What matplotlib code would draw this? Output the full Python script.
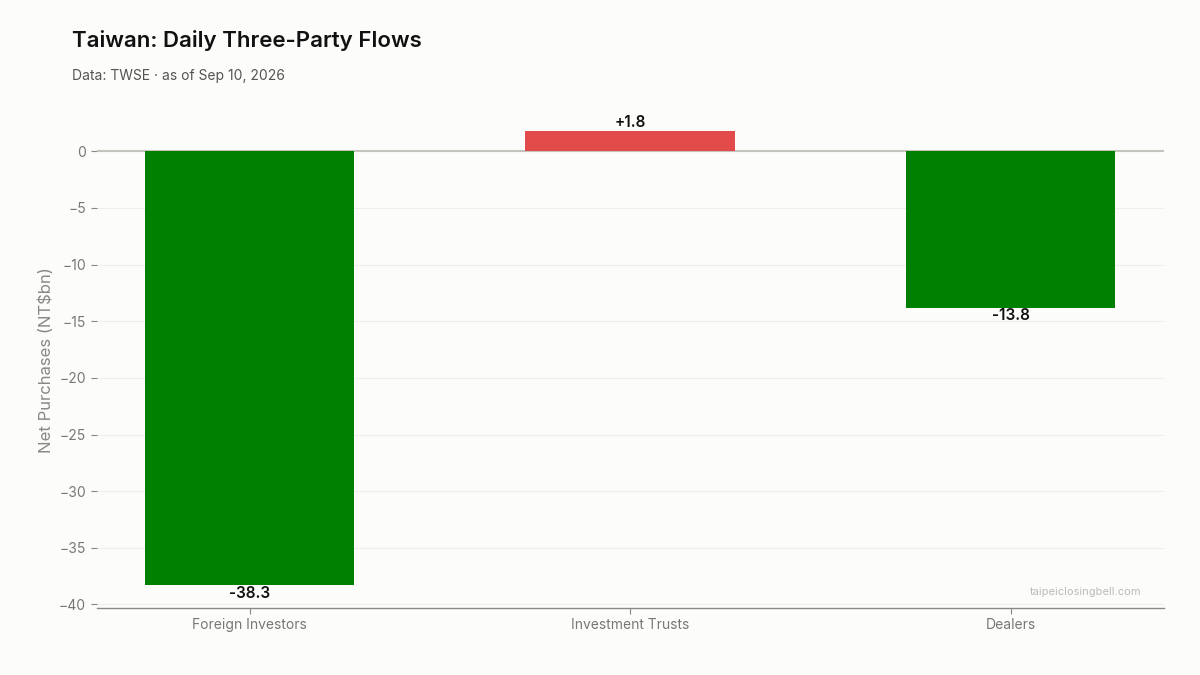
import matplotlib
matplotlib.use("Agg")
import matplotlib.pyplot as plt

plt.rcParams["font.family"] = ["Inter", "DejaVu Sans"]

# chart data
categories = ["Foreign Investors", "Investment Trusts", "Dealers"]
net_flows = [-38.3, 1.8, -13.8]
y_ticks = [0, -5, -10, -15, -20, -25, -30, -35, -40]

BG = "#fcfcfa"
UP = "#e34b4b"    # Taiwan convention: red = buy
DOWN = "#008000"  # green = sell

fig = plt.figure(figsize=(12, 6.75), dpi=100, facecolor=BG)
ax = fig.add_axes([0.0805, 0.0995, 0.8895, 0.735], facecolor=BG)

x = list(range(len(categories)))
colors = [UP if v >= 0 else DOWN for v in net_flows]
ax.bar(x, net_flows, width=0.55, color=colors, zorder=3)

for xi, v in zip(x, net_flows):
    if v >= 0:
        ax.text(xi, v + 0.05, f"+{v:.1f}", ha="center", va="bottom",
                fontsize=11, fontweight="semibold", color="#111111", zorder=4)
    else:
        ax.text(xi, v - 0.05, f"{v:.1f}", ha="center", va="top",
                fontsize=11, fontweight="semibold", color="#111111", zorder=4)

ax.axhline(0, color="#c4c4bc", linewidth=1.5, zorder=2)

ax.set_xlim(-0.402, 2.403)
ax.set_ylim(-40.3, 3.5)
ax.set_yticks(y_ticks)
ax.set_yticklabels([f"{t:d}".replace("-", "\u2212") for t in y_ticks])
ax.set_xticks(x)
ax.set_xticklabels(categories)
ax.grid(axis="y", color="#eeeeea", linewidth=0.8, zorder=0)

for side in ("left", "top", "right"):
    ax.spines[side].set_visible(False)
ax.spines["bottom"].set_color("#888888")
ax.spines["bottom"].set_linewidth(1.0)
ax.tick_params(axis="both", colors="#888888", labelcolor="#777777",
               labelsize=10, length=4, width=0.8)

ax.set_ylabel("Net Purchases (NT$bn)", fontsize=12, color="#888888", labelpad=4)

fig.text(0.06, 0.94, "Taiwan: Daily Three-Party Flows", fontsize=16,
         fontweight="semibold", color="#111111", ha="left", va="center")
fig.text(0.06, 0.888, "Data: TWSE \u00b7 as of Sep 10, 2026", fontsize=10,
         color="#555555", ha="left", va="center")
fig.text(0.951, 0.123, "taipeiclosingbell.com", fontsize=8,
         color="#bbbbbb", ha="right", va="center")

fig.savefig("out.png", dpi=100, facecolor=BG)
